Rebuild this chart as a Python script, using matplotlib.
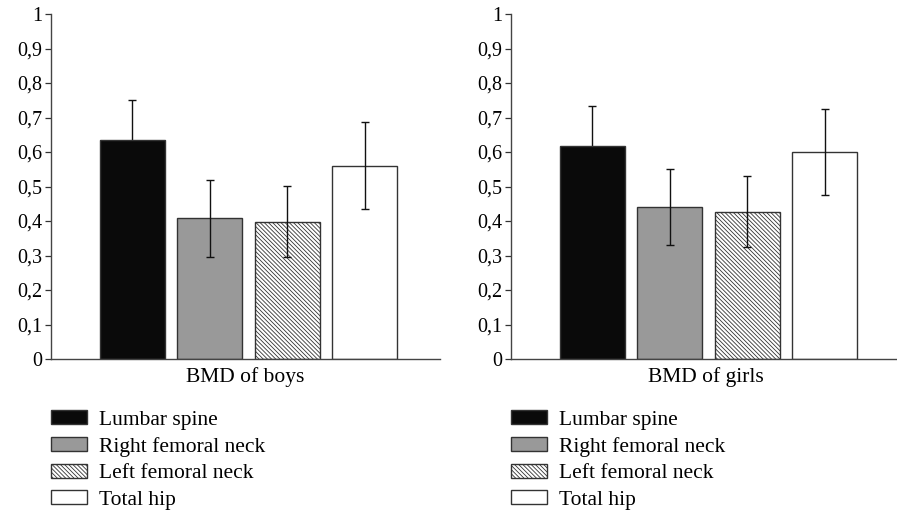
import matplotlib
matplotlib.use("Agg")
import matplotlib.pyplot as plt
from matplotlib.ticker import FuncFormatter

plt.rcParams['font.family'] = ['Liberation Serif', 'DejaVu Serif']
plt.rcParams['hatch.linewidth'] = 0.6
plt.rcParams['hatch.color'] = '#222222'

sites = ["Lumbar spine", "Right femoral neck", "Left femoral neck", "Total hip"]
groups = ["BMD of boys", "BMD of girls"]

boys_mean = [0.635, 0.408, 0.398, 0.560]
boys_sd = [0.117, 0.111, 0.103, 0.126]
girls_mean = [0.618, 0.440, 0.427, 0.601]
girls_sd = [0.116, 0.110, 0.103, 0.125]

colors = ['#0a0a0a', '#999999', 'white', 'white']
hatches = [None, None, '\\' * 8, None]

fig = plt.figure(figsize=(8.97, 5.13), dpi=100)
W, H = 897, 513

def tick_fmt(v, pos):
    if abs(v) < 1e-9:
        return '0'
    if abs(v - 1) < 1e-9:
        return '1'
    return f'{v:.1f}'.replace('.', ',')

def draw_panel(left_px, right_px, means, sds, label):
    ax = fig.add_axes([left_px / W, 1 - 359 / H, (right_px - left_px) / W, (359 - 14) / H])
    bars = []
    for i in range(len(means)):
        b = ax.bar(i, means[i], width=0.84, color=colors[i], hatch=hatches[i],
                   edgecolor='#333333', linewidth=1.0, zorder=2)
        bars.append(b[0])
        # the whisker inside the black bar is hidden behind it
        ax.errorbar(i, means[i], yerr=sds[i], fmt='none', ecolor='#111111',
                    elinewidth=1.0, capsize=3, capthick=1.0,
                    zorder=1 if i == 0 else 3)
    ax.set_xlim(-1.05, 3.97)
    ax.set_ylim(0, 1)
    ax.set_yticks([i / 10 for i in range(11)])
    ax.yaxis.set_major_formatter(FuncFormatter(tick_fmt))
    ax.set_xticks([])
    ax.tick_params(axis='y', direction='out', length=4, width=0.9, color='#333333',
                   labelsize=14.5, pad=2.5)
    for s in ['top', 'right']:
        ax.spines[s].set_visible(False)
    for s in ['left', 'bottom']:
        ax.spines[s].set_color('#444444')
        ax.spines[s].set_linewidth(1.0)
    ax.set_xlabel(label, fontsize=15.5, labelpad=5.5)
    ax.legend(bars, sites, loc='upper left',
              bbox_to_anchor=(left_px / W, 1 - 410 / H), bbox_transform=fig.transFigure,
              frameon=False, fontsize=15.5, borderpad=0, borderaxespad=0,
              handlelength=1.65, handleheight=0.62, handletextpad=0.6, labelspacing=0.33)
    return ax

draw_panel(51, 440, boys_mean, boys_sd, groups[0])
draw_panel(511, 900, girls_mean, girls_sd, groups[1])

fig.savefig("out.png", dpi=100)
